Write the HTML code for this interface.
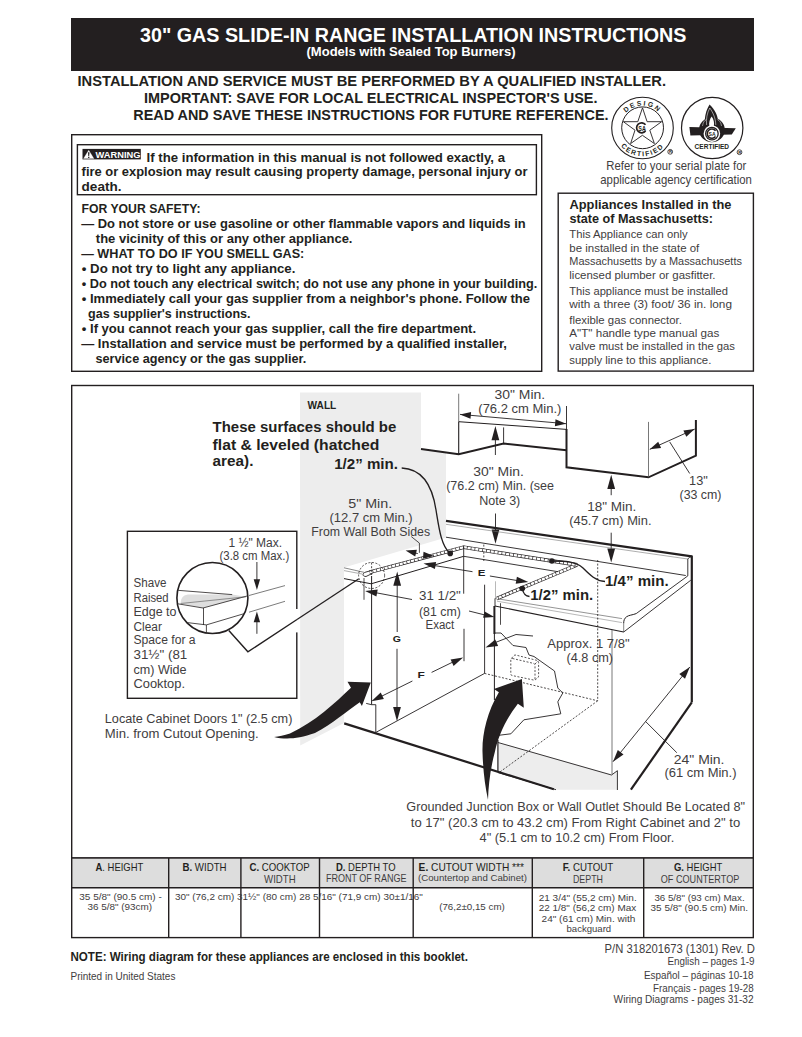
<!DOCTYPE html>
<html><head><meta charset="utf-8"><title>30" Gas Slide-In Range Installation Instructions</title>
<style>
*{margin:0;padding:0}
html,body{width:802px;height:1037px;background:#fff;overflow:hidden}
svg{display:block;font-family:"Liberation Sans",sans-serif}
</style></head><body>
<svg width="802" height="1037" viewBox="0 0 802 1037">
<rect x="71" y="18" width="683" height="53" fill="#231f20"/>
<text x="140.0" y="42.0" font-size="21" font-weight="bold" fill="#fff" textLength="546.5" lengthAdjust="spacingAndGlyphs">30" GAS SLIDE-IN RANGE INSTALLATION INSTRUCTIONS</text>
<text x="306.5" y="56.3" font-size="12.5" font-weight="bold" fill="#fff" textLength="209.0" lengthAdjust="spacingAndGlyphs">(Models with Sealed Top Burners)</text>
<text x="77.5" y="86.0" font-size="15.3" font-weight="bold" fill="#231f20" textLength="588.5" lengthAdjust="spacingAndGlyphs">INSTALLATION AND SERVICE MUST BE PERFORMED BY A QUALIFIED INSTALLER.</text>
<text x="144.0" y="103.0" font-size="15.3" font-weight="bold" fill="#231f20" textLength="453.5" lengthAdjust="spacingAndGlyphs">IMPORTANT: SAVE FOR LOCAL ELECTRICAL INSPECTOR'S USE.</text>
<text x="133.3" y="120.0" font-size="15.3" font-weight="bold" fill="#231f20" textLength="475.2" lengthAdjust="spacingAndGlyphs">READ AND SAVE THESE INSTRUCTIONS FOR FUTURE REFERENCE.</text>
<rect x="71.7" y="134.7" width="470" height="236.6" fill="none" stroke="#231f20" stroke-width="1.4"/>
<rect x="77.4" y="144.7" width="459" height="50" fill="none" stroke="#231f20" stroke-width="1.4"/>
<rect x="82.5" y="148.9" width="58.3" height="10.5" fill="#231f20"/>
<path d="M83.6 158.6 L88.7 150.2 L93.9 158.6 Z" fill="#fff" stroke="#fff" stroke-width="0.3" stroke-linejoin="round"/>
<path d="M88 152.3 L89.5 152.3 L89.2 156 L88.3 156 Z" fill="#231f20"/><rect x="88.1" y="156.7" width="1.3" height="1.3" fill="#231f20"/>
<text x="95.6" y="157.5" font-size="9.3" font-weight="bold" fill="#fff" textLength="45.0" lengthAdjust="spacingAndGlyphs">WARNING</text>
<text x="146.5" y="161.7" font-size="12.6" font-weight="bold" fill="#231f20" textLength="358.5" lengthAdjust="spacingAndGlyphs">If the information in this manual is not followed exactly, a</text>
<text x="81.6" y="176.0" font-size="12.6" font-weight="bold" fill="#231f20" textLength="445.9" lengthAdjust="spacingAndGlyphs">fire or explosion may result causing property damage, personal injury or</text>
<text x="81.6" y="191.0" font-size="12.6" font-weight="bold" fill="#231f20" textLength="39.9" lengthAdjust="spacingAndGlyphs">death.</text>
<text x="81.5" y="212.7" font-size="12.6" font-weight="bold" fill="#231f20" textLength="119.0" lengthAdjust="spacingAndGlyphs">FOR YOUR SAFETY:</text>
<text x="81.2" y="228.0" font-size="12.6" font-weight="bold" fill="#231f20" textLength="444.5" lengthAdjust="spacingAndGlyphs">— Do not store or use gasoline or other flammable vapors and liquids in</text>
<text x="95.8" y="242.8" font-size="12.6" font-weight="bold" fill="#231f20" textLength="256.7" lengthAdjust="spacingAndGlyphs">the vicinity of this or any other appliance.</text>
<text x="81.2" y="257.8" font-size="12.6" font-weight="bold" fill="#231f20" textLength="223.1" lengthAdjust="spacingAndGlyphs">— WHAT TO DO IF YOU SMELL GAS:</text>
<text x="81.8" y="272.6" font-size="12.6" font-weight="bold" fill="#231f20" textLength="213.6" lengthAdjust="spacingAndGlyphs">• Do not try to light any appliance.</text>
<text x="81.8" y="287.6" font-size="12.6" font-weight="bold" fill="#231f20" textLength="455.5" lengthAdjust="spacingAndGlyphs">• Do not touch any electrical switch; do not use any phone in your building.</text>
<text x="81.8" y="302.7" font-size="12.6" font-weight="bold" fill="#231f20" textLength="448.2" lengthAdjust="spacingAndGlyphs">• Immediately call your gas supplier from a neighbor's phone. Follow the</text>
<text x="88.0" y="318.3" font-size="12.6" font-weight="bold" fill="#231f20" textLength="162.5" lengthAdjust="spacingAndGlyphs">gas supplier's instructions.</text>
<text x="81.8" y="332.8" font-size="12.6" font-weight="bold" fill="#231f20" textLength="394.3" lengthAdjust="spacingAndGlyphs">• If you cannot reach your gas supplier, call the fire department.</text>
<text x="81.2" y="348.2" font-size="12.6" font-weight="bold" fill="#231f20" textLength="425.8" lengthAdjust="spacingAndGlyphs">— Installation and service must be performed by a qualified installer,</text>
<text x="95.5" y="362.5" font-size="12.6" font-weight="bold" fill="#231f20" textLength="210.8" lengthAdjust="spacingAndGlyphs">service agency or the gas supplier.</text>
<g fill="none" stroke="#231f20">
  <circle cx="642.5" cy="128" r="30.8" stroke-width="1.1"/>
  <circle cx="642.6" cy="127.8" r="20.9" stroke-width="1"/>
  <path d="M642.5 107.8 L647.1 121.7 L661.6 121.7 L649.8 130.2 L654.4 143.6 L642.4 135.3 L630.6 143.6 L635 130.2 L623.4 121.7 L637.8 121.7 Z" stroke-width="0.9" stroke-linejoin="miter"/>
</g>
<circle cx="641.6" cy="127.8" r="5.6" fill="#fff"/>
<path d="M645.54 124.72 A5.0 5.0 0 1 0 645.54 130.88" fill="none" stroke="#231f20" stroke-width="1.7"/>
<text x="638.3" y="130.6" font-size="6.6" font-weight="bold" fill="#231f20" textLength="7.6" lengthAdjust="spacingAndGlyphs">SA</text>
<defs>
  <path id="arcTop" d="M620.1 128 A22.4 22.4 0 0 1 664.9 128"/>
  <path id="arcBot" d="M614.2 128 A28.3 28.3 0 0 0 670.8 128"/>
</defs>
<text font-size="6.8" font-weight="bold" fill="#231f20" letter-spacing="1.9"><textPath href="#arcTop" startOffset="50%" text-anchor="middle">DESIGN</textPath></text>
<text font-size="6.8" font-weight="bold" fill="#231f20" letter-spacing="1.5"><textPath href="#arcBot" startOffset="50%" text-anchor="middle">CERTIFIED</textPath></text>
<circle cx="670.2" cy="151.8" r="2.4" fill="none" stroke="#231f20" stroke-width="0.8"/>
<text x="668.9" y="153.4" font-size="4.2" font-weight="bold" fill="#231f20">R</text>
<circle cx="712.2" cy="128" r="30.7" fill="none" stroke="#231f20" stroke-width="1.2"/>
<ellipse cx="711.9" cy="129.8" rx="12.9" ry="12.4" fill="#231f20"/>
<path d="M709.6 104.4 C712.5 107.5 716.5 112 717.6 118 L718.5 125 L705 125 C704.3 118 705.5 111 709.6 104.4 Z" fill="#231f20"/>
<path d="M706.6 125 C706 119 707 113 709.8 108 C712.5 112 715.5 117 715.8 125" fill="none" stroke="#fff" stroke-width="0.55"/>
<path d="M702.5 126 C703 122.5 704.5 120.5 706.2 119.6 M721.5 126 C721 122.5 719.5 120.5 717.4 119.6" fill="none" stroke="#fff" stroke-width="0.5"/>
<path d="M689.4 126.9 L735.8 128.3 L731.8 134.6 L690.4 135.4 Z" fill="#231f20"/>
<path d="M711.6 116.5 C713.6 119 714.6 122.5 713.8 126.5 L709.3 126.5 C708.7 122.5 709.8 119 711.6 116.5 Z" fill="#fff"/>
<circle cx="711.9" cy="133.7" r="8.3" fill="#fff"/>
<circle cx="711.9" cy="133.7" r="6.9" fill="#231f20"/>
<circle cx="711.9" cy="133.7" r="5.6" fill="#fff"/>
<path d="M715.52 130.87 A4.6 4.6 0 1 0 715.52 136.53" fill="none" stroke="#231f20" stroke-width="1.5"/>
<text x="708.6" y="136.3" font-size="6" font-weight="bold" fill="#231f20" textLength="7" lengthAdjust="spacingAndGlyphs">SA</text>
<text x="694.6" y="148.8" font-size="6.8" font-weight="bold" fill="#231f20" textLength="34.5" lengthAdjust="spacingAndGlyphs">CERTIFIED</text>
<circle cx="739.5" cy="152.2" r="2.4" fill="none" stroke="#231f20" stroke-width="0.8"/>
<text x="738.2" y="153.8" font-size="4.2" font-weight="bold" fill="#231f20">R</text>

<text x="606.3" y="170.4" font-size="11.9" fill="#413d3e" textLength="140.0" lengthAdjust="spacingAndGlyphs">Refer to your serial plate for</text>
<text x="600.3" y="183.8" font-size="11.9" fill="#413d3e" textLength="151.5" lengthAdjust="spacingAndGlyphs">applicable agency certification</text>
<rect x="558.2" y="193.2" width="195.2" height="177.9" fill="none" stroke="#231f20" stroke-width="1.4"/>
<text x="569.5" y="208.7" font-size="12.6" font-weight="bold" fill="#231f20" textLength="162.0" lengthAdjust="spacingAndGlyphs">Appliances Installed in the</text>
<text x="569.5" y="222.9" font-size="12.6" font-weight="bold" fill="#231f20" textLength="143.5" lengthAdjust="spacingAndGlyphs">state of Massachusetts:</text>
<text x="569.3" y="238.1" font-size="10.8" fill="#413d3e" textLength="118.3" lengthAdjust="spacingAndGlyphs">This Appliance can only</text>
<text x="569.3" y="251.9" font-size="10.8" fill="#413d3e" textLength="130.0" lengthAdjust="spacingAndGlyphs">be installed in the state of</text>
<text x="569.3" y="264.8" font-size="10.8" fill="#413d3e" textLength="172.6" lengthAdjust="spacingAndGlyphs">Massachusetts by a Massachusetts</text>
<text x="569.3" y="278.5" font-size="10.8" fill="#413d3e" textLength="146.2" lengthAdjust="spacingAndGlyphs">licensed plumber or gasfitter.</text>
<text x="569.3" y="295.0" font-size="10.8" fill="#413d3e" textLength="158.7" lengthAdjust="spacingAndGlyphs">This appliance must be installed</text>
<text x="569.3" y="308.2" font-size="10.8" fill="#413d3e" textLength="162.7" lengthAdjust="spacingAndGlyphs">with a three (3) foot/ 36 in. long</text>
<text x="569.3" y="323.6" font-size="10.8" fill="#413d3e" textLength="112.5" lengthAdjust="spacingAndGlyphs">flexible gas connector.</text>
<text x="569.3" y="336.9" font-size="10.8" fill="#413d3e" textLength="150.0" lengthAdjust="spacingAndGlyphs">A"T" handle type manual gas</text>
<text x="569.3" y="350.3" font-size="10.8" fill="#413d3e" textLength="165.7" lengthAdjust="spacingAndGlyphs">valve must be installed in the gas</text>
<text x="569.3" y="364.3" font-size="10.8" fill="#413d3e" textLength="142.0" lengthAdjust="spacingAndGlyphs">supply line to this appliance.</text>
<rect x="71.7" y="385.5" width="681.6" height="472.5" fill="none" stroke="#231f20" stroke-width="1.4"/>
<path d="M300 392.5 L421 392.5 L421 449 L446 452.5 L446 537.5 L344 567.5 L344 723 L300.2 745.5 Z" fill="#ededed"/>
<path d="M498 742.5 L612.5 774.5 L617.6 770.7 L617.6 789.7 L556 789.7 L498 772.5 Z" fill="#ededed"/>
<line x1="458.7" y1="393.7" x2="458.7" y2="421.7" stroke="#555" stroke-width="0.8"/>
<line x1="566.5" y1="406.0" x2="566.5" y2="429.0" stroke="#231f20" stroke-width="0.9"/>
<polyline points="421.0,449.0 458.7,454.3 503.6,443.6 566.5,450.3" fill="none" stroke="#231f20" stroke-width="2" stroke-linejoin="miter"/>
<polyline points="566.5,429.0 566.5,467.3 648.5,477.3 695.9,455.6 695.9,419.9" fill="none" stroke="#231f20" stroke-width="2" stroke-linejoin="miter"/>
<line x1="458.7" y1="421.7" x2="458.7" y2="454.3" stroke="#231f20" stroke-width="1.1"/>
<line x1="458.7" y1="421.7" x2="566.5" y2="429.4" stroke="#231f20" stroke-width="1"/>
<line x1="503.6" y1="427.4" x2="503.6" y2="443.6" stroke="#231f20" stroke-width="0.9"/>
<line x1="648.5" y1="421.9" x2="648.5" y2="477.3" stroke="#555" stroke-width="0.8"/>
<line x1="460.0" y1="414.4" x2="566.0" y2="423.7" stroke="#231f20" stroke-width="0.9"/><path d="M566.0 423.7 L554.9 426.2 L555.5 419.3 Z" fill="#231f20"/><path d="M460.0 414.4 L471.1 411.9 L470.5 418.8 Z" fill="#231f20"/>
<line x1="649.8" y1="449.3" x2="694.7" y2="429.1" stroke="#231f20" stroke-width="0.9"/><path d="M694.7 429.1 L686.3 436.7 L683.4 430.4 Z" fill="#231f20"/><path d="M649.8 449.3 L658.2 441.7 L661.1 448.0 Z" fill="#231f20"/>
<line x1="669.7" y1="441.9" x2="689.7" y2="473.5" stroke="#231f20" stroke-width="0.9"/>
<line x1="495.4" y1="434.0" x2="495.4" y2="455.0" stroke="#231f20" stroke-width="0.9"/>
<path d="M495.4 426.1 L499.3 440.3 L491.5 440.3 Z" fill="#231f20"/>
<line x1="495.5" y1="513.5" x2="495.5" y2="536.0" stroke="#231f20" stroke-width="0.9"/>
<path d="M495.5 543.8 L491.6 529.6 L499.4 529.6 Z" fill="#231f20"/>
<line x1="611.2" y1="482.0" x2="611.2" y2="495.2" stroke="#231f20" stroke-width="0.9"/>
<path d="M611.2 474.7 L615.1 488.9 L607.3 488.9 Z" fill="#231f20"/>
<line x1="611.2" y1="532.7" x2="611.2" y2="555.0" stroke="#231f20" stroke-width="0.9"/>
<path d="M611.2 562.6 L607.3 548.4 L615.1 548.4 Z" fill="#231f20"/>
<line x1="446.0" y1="520.8" x2="691.8" y2="556.4" stroke="#231f20" stroke-width="2.2"/>
<line x1="446.0" y1="524.3" x2="687.8" y2="559.0" stroke="#777" stroke-width="0.6"/>
<line x1="446.0" y1="537.2" x2="685.8" y2="575.5" stroke="#231f20" stroke-width="0.9"/>
<line x1="687.8" y1="559.0" x2="687.8" y2="575.9" stroke="#231f20" stroke-width="0.9"/>
<polyline points="687.8,559.0 689.5,557.2 691.8,556.4" fill="none" stroke="#231f20" stroke-width="0.9" stroke-linejoin="miter"/>
<line x1="691.8" y1="555.5" x2="691.8" y2="702.3" stroke="#231f20" stroke-width="2.2"/>
<line x1="691.8" y1="702.3" x2="630.9" y2="789.7" stroke="#231f20" stroke-width="2.2"/>
<polyline points="687.8,575.9 636.2,613.6" fill="none" stroke="#231f20" stroke-width="0.9" stroke-linejoin="miter"/>
<path d="M636.2 613.6 C632 615.2 629 615 626.5 616.8 C624.3 618.5 623.7 620.5 623.7 623.2" fill="none" stroke="#231f20" stroke-width="1"/>
<line x1="623.7" y1="623.0" x2="623.7" y2="632.0" stroke="#777" stroke-width="0.9"/>
<line x1="623.7" y1="632.0" x2="690.8" y2="580.2" stroke="#231f20" stroke-width="0.9"/>
<line x1="495.0" y1="598.4" x2="622.0" y2="618.6" stroke="#666" stroke-width="0.7"/>
<line x1="497.0" y1="601.2" x2="622.0" y2="622.6" stroke="#888" stroke-width="0.6"/>
<line x1="495.0" y1="606.0" x2="623.7" y2="632.0" stroke="#231f20" stroke-width="1.1"/>
<line x1="495.0" y1="598.4" x2="495.0" y2="606.0" stroke="#231f20" stroke-width="0.9"/>
<polyline points="577.2,564.9 496.5,598.6" fill="none" stroke="#2a2627" stroke-width="3.6" stroke-linejoin="miter"/><polyline points="577.2,564.9 496.5,598.6" fill="none" stroke="#fff" stroke-width="2.3" stroke-dasharray="3.2,0.7"/>
<line x1="494.4" y1="606.0" x2="494.4" y2="634.0" stroke="#231f20" stroke-width="2"/>
<line x1="494.4" y1="634.0" x2="494.4" y2="700.0" stroke="#231f20" stroke-width="1"/>
<line x1="497.9" y1="740.0" x2="497.9" y2="772.0" stroke="#231f20" stroke-width="1.2"/>
<line x1="495.5" y1="581.3" x2="495.5" y2="598.0" stroke="#888" stroke-width="0.6"/>
<line x1="500.5" y1="603.2" x2="500.5" y2="624.8" stroke="#231f20" stroke-width="0.8"/>
<line x1="612.0" y1="630.0" x2="612.0" y2="774.2" stroke="#555" stroke-width="0.8"/>
<polyline points="498.0,742.5 611.5,775.0 617.4,770.7 617.4,790.0" fill="none" stroke="#231f20" stroke-width="0.9" stroke-linejoin="miter"/>
<polyline points="494.4,633.0 501.0,633.0 513.0,645.5 526.0,647.5 529.0,655.0 534.0,656.5 554.5,671.0 557.8,688.0 562.8,693.0 557.8,701.8 560.8,713.8 523.9,719.8 510.9,733.8 497.9,735.4" fill="none" stroke="#231f20" stroke-width="0.9" stroke-linejoin="miter"/>
<path d="M512.5 658.5 L534 663.5 Q535 664 535 665.5 L535 679 Q535 680.5 533.5 680 L512 675.5 Q510.8 675.2 510.8 674 L510.8 660 Q510.8 658.2 512.5 658.5 Z M511.6 658.2 L514 655.5 Q514.8 654.8 516 655.1 L537 660.4 Q538.6 660.9 538.6 662.4 L538.6 676 Q538.6 677.2 537.5 678 L535 680 M535 664 L538 661" fill="none" stroke="#231f20" stroke-width="0.75" stroke-dasharray="2,1.6"/>
<line x1="484.5" y1="673.4" x2="597.7" y2="700.8" stroke="#231f20" stroke-width="0.8" stroke-dasharray="2,1.6"/>
<line x1="597.7" y1="700.8" x2="498.9" y2="772.7" stroke="#231f20" stroke-width="0.8" stroke-dasharray="2,1.6"/>
<line x1="597.7" y1="560.0" x2="597.7" y2="700.8" stroke="#231f20" stroke-width="0.8" stroke-dasharray="2,1.6"/>
<line x1="483.8" y1="544.6" x2="483.8" y2="562.0" stroke="#231f20" stroke-width="0.8" stroke-dasharray="2,1.6"/>
<line x1="613.0" y1="761.7" x2="689.8" y2="667.0" stroke="#231f20" stroke-width="0.9"/><path d="M689.8 667.0 L685.0 678.7 L679.3 674.1 Z" fill="#231f20"/><path d="M613.0 761.7 L617.8 750.0 L623.5 754.6 Z" fill="#231f20"/>
<line x1="645.9" y1="721.8" x2="676.8" y2="752.7" stroke="#231f20" stroke-width="0.9"/>
<polyline points="533.0,636.0 516.0,634.5 492.0,643.8" fill="none" stroke="#231f20" stroke-width="0.9" stroke-linejoin="miter"/>
<path d="M485.5 647.4 L495.3 639.4 L498.1 645.9 Z" fill="#231f20"/>
<polyline points="463.7,547.2 577.2,564.9" fill="none" stroke="#2a2627" stroke-width="3.6" stroke-linejoin="miter"/><polyline points="463.7,547.2 577.2,564.9" fill="none" stroke="#fff" stroke-width="2.3" stroke-dasharray="3.2,0.7"/>
<polyline points="369.5,572.3 463.7,547.2" fill="none" stroke="#2a2627" stroke-width="3.6" stroke-linejoin="miter"/><polyline points="369.5,572.3 463.7,547.2" fill="none" stroke="#fff" stroke-width="2.3" stroke-dasharray="3.2,0.7"/>
<polyline points="344.0,578.6 371.2,583.8 463.7,556.3" fill="none" stroke="#231f20" stroke-width="1" stroke-linejoin="miter"/>
<line x1="463.7" y1="556.3" x2="558.0" y2="571.7" stroke="#231f20" stroke-width="0.9"/>
<line x1="463.7" y1="545.3" x2="463.7" y2="593.7" stroke="#231f20" stroke-width="0.9"/>
<line x1="464.0" y1="628.8" x2="464.0" y2="661.2" stroke="#231f20" stroke-width="0.9"/>
<line x1="484.6" y1="584.7" x2="484.6" y2="673.4" stroke="#231f20" stroke-width="0.9"/>
<line x1="375.7" y1="732.5" x2="484.6" y2="673.4" stroke="#231f20" stroke-width="0.9"/>
<line x1="344.0" y1="567.8" x2="364.0" y2="572.3" stroke="#555" stroke-width="0.7"/>
<line x1="344.0" y1="570.6" x2="362.0" y2="574.0" stroke="#777" stroke-width="0.6"/>
<path d="M370.8 570.7 L366 572 C362 573 362 576.5 366 576.5 L372.4 573.4" fill="none" stroke="#231f20" stroke-width="0.9"/>
<line x1="371.6" y1="576.0" x2="371.6" y2="704.7" stroke="#231f20" stroke-width="1"/>
<line x1="364.0" y1="578.0" x2="364.0" y2="599.8" stroke="#231f20" stroke-width="0.8"/>
<polyline points="366.2,703.4 371.6,704.7 375.8,704.7 375.8,732.0" fill="none" stroke="#231f20" stroke-width="0.9" stroke-linejoin="miter"/>
<circle cx="371.6" cy="575.5" r="13" fill="none" stroke="#231f20" stroke-width="0.8" stroke-dasharray="2,1.6"/>
<line x1="371.6" y1="562.6" x2="371.6" y2="575.0" stroke="#231f20" stroke-width="0.8" stroke-dasharray="2,1.6"/>
<line x1="344.2" y1="723.4" x2="553.8" y2="789.3" stroke="#231f20" stroke-width="2.2"/>
<line x1="497.9" y1="772.5" x2="556.0" y2="789.7" stroke="#231f20" stroke-width="0.9"/>
<line x1="397.2" y1="580.0" x2="397.2" y2="632.0" stroke="#231f20" stroke-width="0.9"/>
<path d="M397.2 571.5 L401.1 585.7 L393.3 585.7 Z" fill="#231f20"/>
<line x1="397.0" y1="648.8" x2="397.0" y2="713.0" stroke="#231f20" stroke-width="0.9"/>
<path d="M397.0 721.2 L393.1 707.0 L400.9 707.0 Z" fill="#231f20"/>
<line x1="412.4" y1="681.0" x2="376.0" y2="699.0" stroke="#231f20" stroke-width="0.9"/>
<path d="M371.4 701.2 L380.7 692.6 L383.9 699.0 Z" fill="#231f20"/>
<line x1="431.6" y1="672.4" x2="455.0" y2="661.0" stroke="#231f20" stroke-width="0.9"/>
<path d="M463.1 657.5 L453.6 665.9 L450.6 659.5 Z" fill="#231f20"/>
<line x1="372.0" y1="592.0" x2="412.0" y2="599.5" stroke="#231f20" stroke-width="0.9"/>
<path d="M365.1 590.9 L377.7 589.6 L376.4 596.6 Z" fill="#231f20"/>
<line x1="469.0" y1="611.0" x2="487.0" y2="615.5" stroke="#231f20" stroke-width="0.9"/>
<path d="M494.4 617.0 L483.1 617.7 L484.6 611.4 Z" fill="#231f20"/>
<line x1="431.0" y1="565.0" x2="472.5" y2="571.7" stroke="#231f20" stroke-width="0.9"/>
<path d="M423.5 563.4 L436.1 561.9 L434.9 568.9 Z" fill="#231f20"/>
<line x1="489.9" y1="576.0" x2="520.0" y2="581.0" stroke="#231f20" stroke-width="0.9"/>
<path d="M528.3 582.1 L515.7 583.7 L516.9 576.7 Z" fill="#231f20"/>
<path d="M405.6 550.4 L416.9 549.8 L415.2 556.5 Z" fill="#231f20"/>
<line x1="411.0" y1="552.0" x2="417.8" y2="553.6" stroke="#231f20" stroke-width="0.9"/>
<path d="M434.0 556.1 L423.0 558.7 L423.5 551.8 Z" fill="#231f20"/>
<line x1="424.3" y1="555.3" x2="428.0" y2="555.6" stroke="#231f20" stroke-width="0.9"/>
<polyline points="411.3,536.6 419.4,543.1 419.4,552.8" fill="none" stroke="#231f20" stroke-width="0.8" stroke-linejoin="miter"/>
<path d="M401.7 468 C425 469 433 490 436 510 C439 528 441 545 449.6 553" fill="none" stroke="#231f20" stroke-width="1.35"/>
<circle cx="450.2" cy="553.4" r="2.8" fill="#231f20"/>
<path d="M551.9 561 C565 561 575 561 583 568 C590 575 596 581 605 581.5" fill="none" stroke="#231f20" stroke-width="1.35"/>
<circle cx="551.9" cy="561" r="2.8" fill="#231f20"/>
<path d="M522.3 588.5 C523 592 524 596 529.5 596.5" fill="none" stroke="#231f20" stroke-width="1.35"/>
<circle cx="522.3" cy="588.5" r="2.8" fill="#231f20"/>
<path d="M370.8 682.6 L347.5 681.7 L351 687.8 C335 703 315 722 290 733.5 C284 735.5 279 736.5 274.1 736.9 C284 739.5 297 739.5 315 733.1 C332 724 347 711 359.8 702.2 L361.9 705.9 Z" fill="#231f20"/>
<path d="M521.9 679 L493.9 688.9 L498.9 692.3 C487 712 482 735 482.5 752 C483 770 485 786 488 799.7 C488.5 786 490 770 494.9 751.7 C498 737 505 720 517.9 703.8 L523.8 707.8 Z" fill="#231f20"/>
<rect x="127.4" y="531.3" width="169.4" height="167" fill="#fff" stroke="#231f20" stroke-width="1.4"/>
<clipPath id="cc"><circle cx="212.4" cy="598" r="35"/></clipPath><g clip-path="url(#cc)">
<path d="M180.6 603.5 C181 597 184 594.6 190 594.6 L232.2 594.6 L246 596.8 L203 608 Z" fill="#dedede"/>
<line x1="170.0" y1="589.7" x2="232.2" y2="594.6" stroke="#231f20" stroke-width="0.8"/>
<line x1="170.0" y1="602.5" x2="203.0" y2="608.0" stroke="#231f20" stroke-width="0.8"/>
<line x1="203.0" y1="608.0" x2="250.0" y2="595.2" stroke="#231f20" stroke-width="0.8"/>
<line x1="170.0" y1="620.5" x2="206.4" y2="624.9" stroke="#231f20" stroke-width="0.8"/>
<line x1="206.4" y1="624.9" x2="250.0" y2="611.9" stroke="#231f20" stroke-width="0.8"/>
<line x1="203.5" y1="608.0" x2="203.5" y2="625.0" stroke="#231f20" stroke-width="0.8"/>
<line x1="180.6" y1="603.5" x2="246.0" y2="596.8" stroke="#555" stroke-width="0.6"/>
<line x1="206.4" y1="624.9" x2="206.4" y2="634.0" stroke="#231f20" stroke-width="0.8"/>
</g>
<line x1="256.9" y1="562.0" x2="256.9" y2="582.0" stroke="#231f20" stroke-width="0.9"/>
<path d="M256.9 590.1 L253.7 579.3 L260.1 579.3 Z" fill="#231f20"/>
<line x1="256.9" y1="619.0" x2="256.9" y2="633.8" stroke="#231f20" stroke-width="0.9"/>
<path d="M256.9 611.4 L260.1 622.2 L253.7 622.2 Z" fill="#231f20"/>
<line x1="249.0" y1="612.2" x2="285.0" y2="601.3" stroke="#444" stroke-width="0.7"/>
<line x1="249.0" y1="595.5" x2="285.0" y2="585.6" stroke="#444" stroke-width="0.7"/>
<circle cx="212.4" cy="598" r="35.5" fill="none" stroke="#231f20" stroke-width="1.6"/>
<rect x="295" y="609" width="4" height="23.4" fill="#fff"/>
<polyline points="228.8,630.5 247.9,651.8 297.0,619.5" fill="none" stroke="#231f20" stroke-width="1.4" stroke-linejoin="miter"/>
<line x1="297.0" y1="619.5" x2="358.5" y2="579.0" stroke="#231f20" stroke-width="1.3"/>
<text x="307.6" y="408.6" font-size="10" font-weight="bold" fill="#231f20" textLength="28.7" lengthAdjust="spacingAndGlyphs">WALL</text>
<text x="212.6" y="432.4" font-size="15.2" font-weight="bold" fill="#231f20" textLength="183.7" lengthAdjust="spacingAndGlyphs">These surfaces should be</text>
<text x="212.6" y="449.9" font-size="15.2" font-weight="bold" fill="#231f20" textLength="166.7" lengthAdjust="spacingAndGlyphs">flat &amp; leveled (hatched</text>
<text x="212.6" y="466.1" font-size="15.2" font-weight="bold" fill="#231f20" textLength="40.8" lengthAdjust="spacingAndGlyphs">area).</text>
<text x="334.2" y="469.4" font-size="14" font-weight="bold" fill="#231f20" textLength="63.8" lengthAdjust="spacingAndGlyphs">1/2” min.</text>
<text x="494.5" y="399.2" font-size="12.3" fill="#413d3e" textLength="50.6" lengthAdjust="spacingAndGlyphs">30" Min.</text>
<text x="478.3" y="412.9" font-size="12.3" fill="#413d3e" textLength="83.1" lengthAdjust="spacingAndGlyphs">(76.2 cm Min.)</text>
<text x="473.3" y="475.8" font-size="12.3" fill="#413d3e" textLength="50.6" lengthAdjust="spacingAndGlyphs">30" Min.</text>
<text x="446.2" y="490.0" font-size="12.3" fill="#413d3e" textLength="107.8" lengthAdjust="spacingAndGlyphs">(76.2 cm) Min. (see</text>
<text x="479.2" y="505.2" font-size="12.3" fill="#413d3e" textLength="41.1" lengthAdjust="spacingAndGlyphs">Note 3)</text>
<text x="689.1" y="484.8" font-size="12.3" fill="#413d3e" textLength="18.7" lengthAdjust="spacingAndGlyphs">13"</text>
<text x="679.5" y="498.5" font-size="12.3" fill="#413d3e" textLength="42.0" lengthAdjust="spacingAndGlyphs">(33 cm)</text>
<text x="587.2" y="510.7" font-size="12.3" fill="#413d3e" textLength="49.1" lengthAdjust="spacingAndGlyphs">18" Min.</text>
<text x="569.2" y="525.4" font-size="12.3" fill="#413d3e" textLength="82.3" lengthAdjust="spacingAndGlyphs">(45.7 cm) Min.</text>
<text x="348.2" y="507.9" font-size="12.3" fill="#413d3e" textLength="44.0" lengthAdjust="spacingAndGlyphs">5" Min.</text>
<text x="329.5" y="522.3" font-size="12.3" fill="#413d3e" textLength="83.1" lengthAdjust="spacingAndGlyphs">(12.7 cm Min.)</text>
<text x="311.3" y="536.1" font-size="12.3" fill="#413d3e" textLength="118.8" lengthAdjust="spacingAndGlyphs">From Wall Both Sides</text>
<text x="605.0" y="585.6" font-size="14" font-weight="bold" fill="#231f20" textLength="63.6" lengthAdjust="spacingAndGlyphs">1/4” min.</text>
<text x="530.3" y="600.0" font-size="14" font-weight="bold" fill="#231f20" textLength="62.9" lengthAdjust="spacingAndGlyphs">1/2” min.</text>
<text x="477.8" y="576.2" font-size="9" font-weight="bold" fill="#231f20" textLength="7.7" lengthAdjust="spacingAndGlyphs">E</text>
<text x="392.7" y="642.0" font-size="9.5" font-weight="bold" fill="#231f20" textLength="8.2" lengthAdjust="spacingAndGlyphs">G</text>
<text x="417.6" y="678.0" font-size="9.5" font-weight="bold" fill="#231f20" textLength="7.3" lengthAdjust="spacingAndGlyphs">F</text>
<text x="419.0" y="599.8" font-size="12.3" fill="#413d3e" textLength="41.8" lengthAdjust="spacingAndGlyphs">31 1/2"</text>
<text x="419.0" y="615.6" font-size="12.3" fill="#413d3e" textLength="41.8" lengthAdjust="spacingAndGlyphs">(81 cm)</text>
<text x="425.5" y="628.6" font-size="12.3" fill="#413d3e" textLength="28.7" lengthAdjust="spacingAndGlyphs">Exact</text>
<text x="547.3" y="648.3" font-size="12.3" fill="#413d3e" textLength="82.3" lengthAdjust="spacingAndGlyphs">Approx. 1 7/8"</text>
<text x="566.5" y="662.0" font-size="12.3" fill="#413d3e" textLength="46.6" lengthAdjust="spacingAndGlyphs">(4.8 cm)</text>
<text x="673.8" y="764.2" font-size="12.3" fill="#413d3e" textLength="50.7" lengthAdjust="spacingAndGlyphs">24" Min.</text>
<text x="664.4" y="777.2" font-size="12.3" fill="#413d3e" textLength="72.1" lengthAdjust="spacingAndGlyphs">(61 cm Min.)</text>
<text x="406.3" y="811.2" font-size="12.3" fill="#413d3e" textLength="338.8" lengthAdjust="spacingAndGlyphs">Grounded Junction Box or Wall Outlet Should Be Located 8"</text>
<text x="410.8" y="826.9" font-size="12.3" fill="#413d3e" textLength="329.4" lengthAdjust="spacingAndGlyphs">to 17" (20.3 cm to 43.2 cm) From Right Cabinet and 2" to</text>
<text x="479.5" y="841.7" font-size="12.3" fill="#413d3e" textLength="194.7" lengthAdjust="spacingAndGlyphs">4" (5.1 cm to 10.2 cm) From Floor.</text>
<text x="228.4" y="547.3" font-size="12.3" fill="#413d3e" textLength="53.6" lengthAdjust="spacingAndGlyphs">1 ½" Max.</text>
<text x="219.5" y="560.3" font-size="12.3" fill="#413d3e" textLength="69.7" lengthAdjust="spacingAndGlyphs">(3.8 cm Max.)</text>
<text x="133.5" y="587.2" font-size="12.3" fill="#413d3e" textLength="32.9" lengthAdjust="spacingAndGlyphs">Shave</text>
<text x="133.5" y="601.8" font-size="12.3" fill="#413d3e" textLength="35.1" lengthAdjust="spacingAndGlyphs">Raised</text>
<text x="133.5" y="616.4" font-size="12.3" fill="#413d3e" textLength="43.0" lengthAdjust="spacingAndGlyphs">Edge to</text>
<text x="133.5" y="630.5" font-size="12.3" fill="#413d3e" textLength="28.4" lengthAdjust="spacingAndGlyphs">Clear</text>
<text x="133.5" y="644.4" font-size="12.3" fill="#413d3e" textLength="62.1" lengthAdjust="spacingAndGlyphs">Space for a</text>
<text x="133.5" y="659.0" font-size="12.3" fill="#413d3e" textLength="53.8" lengthAdjust="spacingAndGlyphs">31½" (81</text>
<text x="133.5" y="673.6" font-size="12.3" fill="#413d3e" textLength="53.1" lengthAdjust="spacingAndGlyphs">cm) Wide</text>
<text x="133.5" y="687.5" font-size="12.3" fill="#413d3e" textLength="51.5" lengthAdjust="spacingAndGlyphs">Cooktop.</text>
<text x="104.8" y="723.3" font-size="12.3" fill="#413d3e" textLength="187.6" lengthAdjust="spacingAndGlyphs">Locate Cabinet Doors 1" (2.5 cm)</text>
<text x="104.8" y="738.0" font-size="12.3" fill="#413d3e" textLength="153.8" lengthAdjust="spacingAndGlyphs">Min. from Cutout Opening.</text>
<rect x="71.7" y="858" width="681.6" height="29.8" fill="#dddddd"/>
<rect x="71.7" y="858" width="681.6" height="79.6" fill="none" stroke="#231f20" stroke-width="1.4"/>
<line x1="71" y1="887.8" x2="754" y2="887.8" stroke="#231f20" stroke-width="1.4"/>
<line x1="168.7" y1="858" x2="168.7" y2="937.6" stroke="#231f20" stroke-width="1.4"/>
<line x1="240.9" y1="858" x2="240.9" y2="937.6" stroke="#231f20" stroke-width="1.4"/>
<line x1="319.5" y1="858" x2="319.5" y2="937.6" stroke="#231f20" stroke-width="1.4"/>
<line x1="413.2" y1="858" x2="413.2" y2="937.6" stroke="#231f20" stroke-width="1.4"/>
<line x1="532.3" y1="858" x2="532.3" y2="937.6" stroke="#231f20" stroke-width="1.4"/>
<line x1="643.7" y1="858" x2="643.7" y2="937.6" stroke="#231f20" stroke-width="1.4"/>
<text x="95.5" y="871.2" font-size="10.6" fill="#231f20" textLength="47.8" lengthAdjust="spacingAndGlyphs"><tspan font-weight="bold">A</tspan>. HEIGHT</text>
<text x="182.4" y="871.2" font-size="10.6" fill="#231f20" textLength="44.2" lengthAdjust="spacingAndGlyphs"><tspan font-weight="bold">B.</tspan> WIDTH</text>
<text x="249.5" y="871.2" font-size="10.6" fill="#231f20" textLength="60.1" lengthAdjust="spacingAndGlyphs"><tspan font-weight="bold">C.</tspan> COOKTOP</text>
<text x="264.1" y="882.6" font-size="10.6" fill="#413d3e" textLength="31.6" lengthAdjust="spacingAndGlyphs">WIDTH</text>
<text x="336.0" y="870.9" font-size="10.6" fill="#231f20" textLength="59.6" lengthAdjust="spacingAndGlyphs"><tspan font-weight="bold">D.</tspan> DEPTH TO</text>
<text x="325.9" y="882.3" font-size="10.6" fill="#413d3e" textLength="80.6" lengthAdjust="spacingAndGlyphs">FRONT OF RANGE</text>
<text x="418.6" y="870.9" font-size="10.6" fill="#231f20" textLength="105.4" lengthAdjust="spacingAndGlyphs"><tspan font-weight="bold">E.</tspan> CUTOUT WIDTH ***</text>
<text x="418.0" y="881.0" font-size="9.6" fill="#413d3e" textLength="109.0" lengthAdjust="spacingAndGlyphs">(Countertop and Cabinet)</text>
<text x="562.7" y="871.1" font-size="10.6" fill="#231f20" textLength="50.6" lengthAdjust="spacingAndGlyphs"><tspan font-weight="bold">F.</tspan> CUTOUT</text>
<text x="572.9" y="882.8" font-size="10.6" fill="#413d3e" textLength="30.1" lengthAdjust="spacingAndGlyphs">DEPTH</text>
<text x="674.0" y="871.1" font-size="10.6" fill="#231f20" textLength="48.3" lengthAdjust="spacingAndGlyphs"><tspan font-weight="bold">G.</tspan> HEIGHT</text>
<text x="660.8" y="882.8" font-size="10.6" fill="#413d3e" textLength="78.5" lengthAdjust="spacingAndGlyphs">OF COUNTERTOP</text>
<text x="79.3" y="900.4" font-size="9.6" fill="#413d3e" textLength="82.5" lengthAdjust="spacingAndGlyphs">35 5/8" (90.5 cm) -</text>
<text x="87.4" y="910.1" font-size="9.6" fill="#413d3e" textLength="64.7" lengthAdjust="spacingAndGlyphs">36 5/8" (93cm)</text>
<text x="174.9" y="900.4" font-size="9.6" fill="#413d3e" textLength="247.9" lengthAdjust="spacingAndGlyphs">30" (76,2 cm) 31½" (80 cm) 28 5/16" (71,9 cm) 30±1/16"</text>
<text x="439.2" y="910.1" font-size="9.6" fill="#413d3e" textLength="65.6" lengthAdjust="spacingAndGlyphs">(76,2±0,15 cm)</text>
<text x="538.7" y="901.0" font-size="9.6" fill="#413d3e" textLength="98.0" lengthAdjust="spacingAndGlyphs">21 3/4" (55,2 cm) Min.</text>
<text x="538.7" y="911.3" font-size="9.6" fill="#413d3e" textLength="97.5" lengthAdjust="spacingAndGlyphs">22 1/8" (56,2 cm) Max</text>
<text x="541.6" y="921.8" font-size="9.6" fill="#413d3e" textLength="93.7" lengthAdjust="spacingAndGlyphs">24" (61 cm) Min. with</text>
<text x="566.5" y="932.0" font-size="9.6" fill="#413d3e" textLength="44.7" lengthAdjust="spacingAndGlyphs">backguard</text>
<text x="654.4" y="901.0" font-size="9.6" fill="#413d3e" textLength="90.2" lengthAdjust="spacingAndGlyphs">36 5/8" (93 cm) Max.</text>
<text x="650.6" y="911.3" font-size="9.6" fill="#413d3e" textLength="97.5" lengthAdjust="spacingAndGlyphs">35 5/8" (90.5 cm) Min.</text>
<text x="70.5" y="960.6" font-size="12.4" font-weight="bold" fill="#231f20" textLength="397.4" lengthAdjust="spacingAndGlyphs">NOTE: Wiring diagram for these appliances are enclosed in this booklet.</text>
<text x="70.5" y="979.8" font-size="11.2" fill="#413d3e" textLength="104.9" lengthAdjust="spacingAndGlyphs">Printed in United States</text>
<text x="604.6" y="953.0" font-size="12.4" fill="#413d3e" textLength="150.4" lengthAdjust="spacingAndGlyphs">P/N 318201673 (1301) Rev. D</text>
<text x="667.4" y="965.0" font-size="11.4" fill="#413d3e" textLength="87.0" lengthAdjust="spacingAndGlyphs">English – pages 1-9</text>
<text x="643.9" y="978.5" font-size="11.4" fill="#413d3e" textLength="109.7" lengthAdjust="spacingAndGlyphs">Español – páginas 10-18</text>
<text x="653.1" y="992.0" font-size="11.4" fill="#413d3e" textLength="100.5" lengthAdjust="spacingAndGlyphs">Français - pages 19-28</text>
<text x="613.6" y="1002.6" font-size="11.4" fill="#413d3e" textLength="140.0" lengthAdjust="spacingAndGlyphs">Wiring Diagrams - pages 31-32</text>
</svg>
</body></html>
